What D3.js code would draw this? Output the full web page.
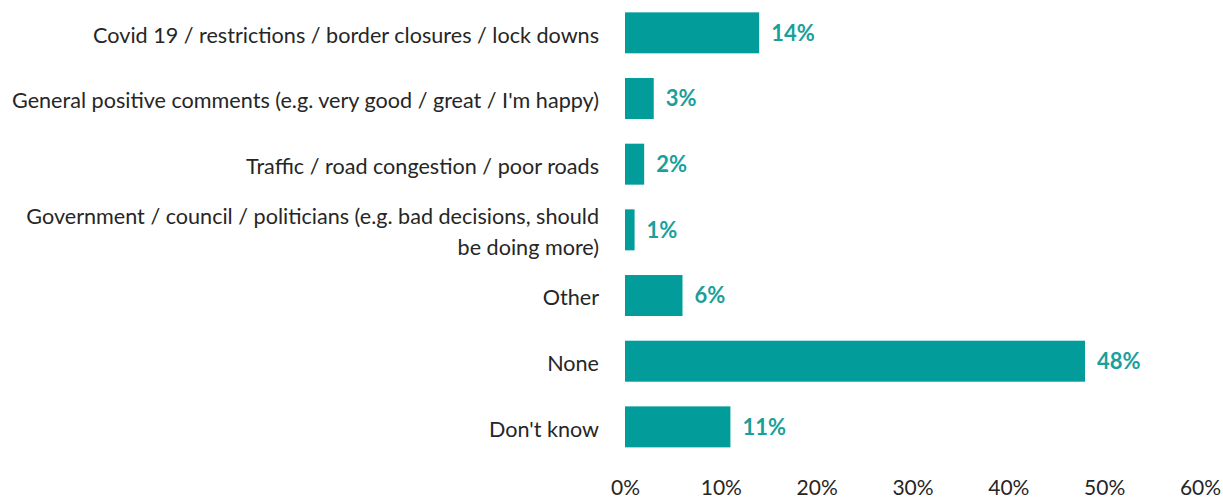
<!DOCTYPE html>
<html>
<head>
<meta charset="utf-8">
<script src="https://cdn.jsdelivr.net/npm/d3@7"></script>
<style>
  html, body { margin: 0; padding: 0; background: #ffffff; }
  svg { display: block; }
  text { font-family: Lato, "Open Sans", sans-serif; }
</style>
</head>
<body>
<svg id="chart" width="1223" height="500"></svg>
<script>
// Survey responses (share of respondents)
const categories = [
  ["Covid 19 / restrictions / border closures / lock downs"],
  ["General positive comments (e.g. very good / great / I'm happy)"],
  ["Traffic / road congestion / poor roads"],
  ["Government / council / politicians (e.g. bad decisions, should", "be doing more)"],
  ["Other"],
  ["None"],
  ["Don't know"]
];
const values = [14, 3, 2, 1, 6, 48, 11];
const xTicks = [0, 10, 20, 30, 40, 50, 60];

const svg = d3.select("#chart");
const barColor = "#029d9b";
const labelColor = "#1a9f9c";
const textColor = "#262626";

const x = d3.scaleLinear().domain([0, 60]).range([625, 1200]);
const y = d3.scaleBand()
  .domain(d3.range(categories.length))
  .range([0, 459.7])
  .paddingInner(0.376)
  .paddingOuter(0.188);

// bars
svg.append("g").selectAll("rect")
  .data(values)
  .join("rect")
  .attr("x", x(0))
  .attr("y", (d, i) => y(i))
  .attr("width", d => x(d) - x(0))
  .attr("height", y.bandwidth())
  .attr("fill", barColor);

// value labels
svg.append("g").selectAll("text")
  .data(values)
  .join("text")
  .attr("x", d => x(d) + 12)
  .attr("y", (d, i) => y(i) + y.bandwidth() / 2)
  .attr("dy", "0.36em")
  .attr("fill", labelColor)
  .attr("font-weight", "bold")
  .attr("font-size", 22)
  .text(d => d + "%");

// category labels (right aligned, wrapped where needed)
const catG = svg.append("g");
categories.forEach((lines, i) => {
  const cy = y(i) + y.bandwidth() / 2 + 2;
  const lh = 31;
  const t = catG.append("text")
    .attr("text-anchor", "end")
    .attr("fill", textColor)
    .attr("font-size", 21.6);
  lines.forEach((ln, j) => {
    t.append("tspan")
      .attr("x", 599)
      .attr("y", cy + (j - (lines.length - 1) / 2) * lh)
      .attr("dy", "0.36em")
      .text(ln);
  });
});

// x axis (labels only)
const xAxis = d3.axisBottom(x)
  .tickValues(xTicks)
  .tickFormat(d => d + "%")
  .tickSize(0)
  .tickPadding(0);
const ax = svg.append("g")
  .attr("transform", "translate(0,480)")
  .call(xAxis);
ax.select(".domain").remove();
ax.selectAll("text")
  .attr("font-family", "Lato, 'Open Sans', sans-serif")
  .attr("font-size", 21)
  .attr("fill", textColor)
  .attr("dy", "0.72em");
</script>
</body>
</html>
